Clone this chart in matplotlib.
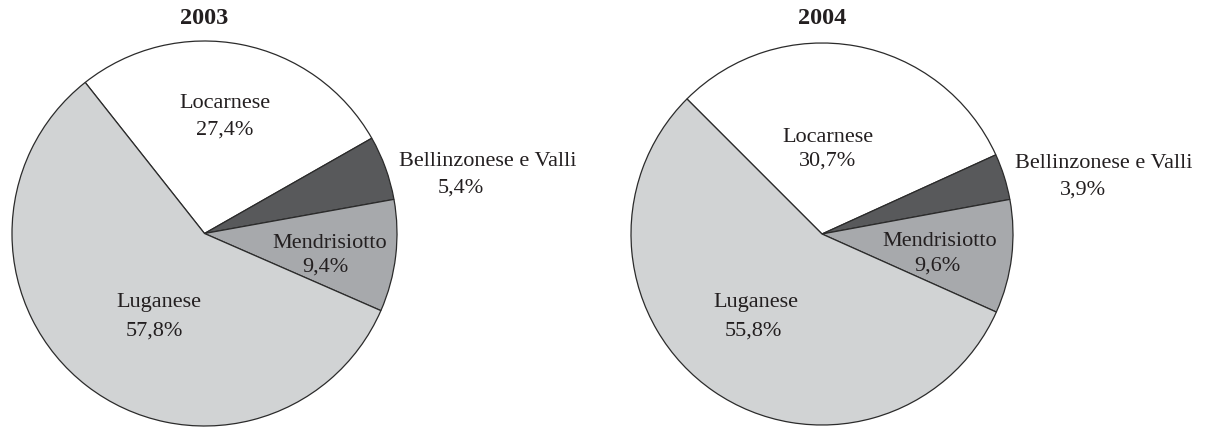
import matplotlib
matplotlib.use("Agg")
import matplotlib.pyplot as plt

# ---- data ----
regions = ["Locarnese", "Bellinzonese e Valli", "Mendrisiotto", "Luganese"]
years = ["2003", "2004"]
shares_2003 = [27.4, 5.4, 9.4, 57.8]
shares_2004 = [30.7, 3.9, 9.6, 55.8]
colors = ["#ffffff", "#58595b", "#a7a9ac", "#d1d3d4"]

# ---- layout (pixels) ----
W, H, DPI = 1206, 428, 100
pies = [
    dict(cx=204.5, cy=233.5, r=192.5, start=128.3, values=shares_2003, title=years[0],
         name_pos=[(225, 104), (488, 162), (330, 243), (159, 303)],
         pct_pos=[(225, 130), (461, 188), (325, 267), (154, 331)]),
    dict(cx=822.0, cy=234.0, r=191.0, start=135.0, values=shares_2004, title=years[1],
         name_pos=[(828, 137), (1104, 163), (940, 241), (756, 302)],
         pct_pos=[(828, 161), (1083, 190), (937, 266), (753, 331)]),
]

plt.rcParams["font.family"] = ["Liberation Serif", "DejaVu Serif"]
fig = plt.figure(figsize=(W / DPI, H / DPI), dpi=DPI)
fig.patch.set_facecolor("white")

def fmt(v):
    return f"{v:.1f}".replace(".", ",") + "%"

for p in pies:
    cx, cy, r = p["cx"], p["cy"], p["r"]
    ax = fig.add_axes([(cx - r) / W, (H - cy - r) / H, 2 * r / W, 2 * r / H])
    ax.pie(p["values"], colors=colors, startangle=p["start"], counterclock=False,
           radius=1.0, wedgeprops=dict(edgecolor="#2b2b2b", linewidth=0.9))
    ax.set_xlim(-1, 1)
    ax.set_ylim(-1, 1)
    ax.set_aspect("equal")
    ax.axis("off")
    for w in ax.patches:
        w.set_clip_on(False)
    for name, v, npos, ppos in zip(regions, p["values"], p["name_pos"], p["pct_pos"]):
        for txt, (px, py) in ((name, npos), (fmt(v), ppos)):
            ax.text((px - cx) / r, (cy - py) / r, txt, ha="center", va="center",
                    fontsize=16, color="#231f20", clip_on=False)
    ax.text(0, (cy - 18) / r, p["title"], ha="center", va="center", fontsize=17.5,
            fontweight="bold", color="#231f20", clip_on=False)

fig.savefig("out.png", dpi=DPI, facecolor="white")
